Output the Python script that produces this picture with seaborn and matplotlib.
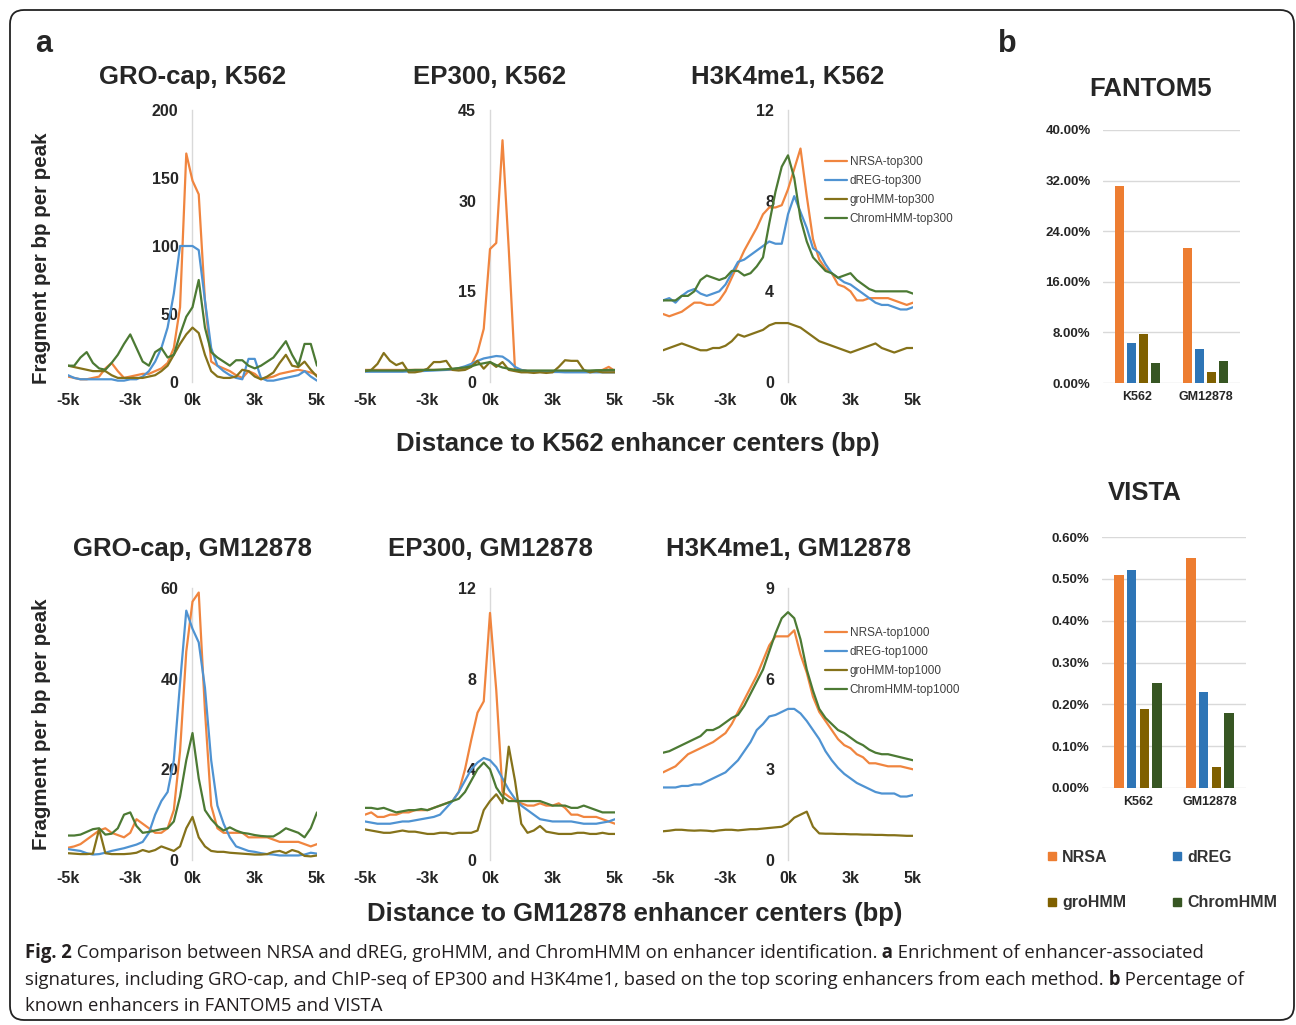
import numpy as np
import pandas as pd
import matplotlib
matplotlib.use("Agg")
import matplotlib.pyplot as plt
from matplotlib.lines import Line2D
from matplotlib.patches import FancyBboxPatch
from matplotlib.ticker import PercentFormatter
from matplotlib.transforms import IdentityTransform
import seaborn as sns

methods = ["NRSA", "dREG", "groHMM", "ChromHMM"]
cells = ["K562", "GM12878"]
distance = np.linspace(-5000, 5000, 41)
xtick_pos = [-5000, -2500, 0, 2500, 5000]
xtick_labels = ["-5k", "-3k", "0k", "3k", "5k"]

# GRO-cap, K562
grocap_k562_nrsa = [4, 3, 2, 2, 3, 4, 10, 14, 8, 3, 4, 5, 6, 6, 8, 10, 14, 25, 55, 168,
                    148, 138, 60, 15, 12, 10, 8, 5, 3, 8, 6, 2, 3, 4, 6, 7, 8, 9, 8, 7, 5]
grocap_k562_dreg = [5, 3, 2, 2, 2, 2, 2, 2, 1, 1, 2, 2, 4, 8, 15, 25, 40, 65, 100, 100,
                    100, 97, 60, 25, 12, 8, 5, 3, 2, 17, 17, 3, 1, 1, 2, 3, 4, 5, 8, 4, 1]
grocap_k562_grohmm = [12, 11, 10, 9, 8, 8, 8, 5, 3, 3, 3, 3, 3, 4, 5, 8, 12, 20, 28, 35,
                      40, 36, 20, 8, 4, 3, 3, 4, 9, 8, 4, 2, 4, 7, 14, 20, 12, 11, 15, 9, 4]
grocap_k562_chromhmm = [12, 12, 18, 22, 14, 10, 9, 14, 20, 28, 35, 25, 15, 12, 22, 25, 18, 20, 35, 48,
                        55, 75, 40, 22, 18, 15, 12, 16, 16, 12, 10, 12, 15, 18, 24, 30, 20, 12, 28, 28, 12]

# EP300, K562
ep300_k562_nrsa = [2, 2, 2, 2, 2, 2, 2, 2, 2, 2, 2, 2, 2, 2, 2, 2, 2.2, 2.8, 4.9, 8.8,
                   22, 23, 40, 22, 2, 2, 1.8, 1.8, 1.8, 1.8, 1.8, 1.8, 1.8, 1.8, 1.8, 1.8, 1.8, 1.8, 2, 2.5, 1.8]
ep300_k562_dreg = [1.7, 1.7, 1.7, 1.7, 1.7, 1.7, 1.7, 1.75, 1.8, 1.8, 1.85, 1.9, 1.95, 2, 2.1, 2.3, 2.6, 3.0, 3.5, 3.9,
                   4.1, 4.3, 4.2, 3.5, 2.5, 2.0, 1.8, 1.7, 1.7, 1.7, 1.65, 1.65, 1.6, 1.6, 1.6, 1.6, 1.6, 1.6, 1.6, 1.6, 1.6]
ep300_k562_grohmm = [1.8, 2, 3, 4.8, 3.5, 2.8, 3.2, 1.6, 1.6, 1.8, 2.2, 3.3, 3.3, 3.5, 2, 1.9, 2, 2.5, 3.5, 2.2,
                     3.3, 2.5, 3.3, 2, 1.8, 1.6, 1.6, 1.5, 1.6, 1.5, 1.6, 2.5, 3.6, 3.5, 3.5, 2, 1.6, 1.8, 1.6, 1.6, 1.6]
ep300_k562_chromhmm = [1.9, 1.9, 1.9, 1.9, 1.9, 1.9, 1.9, 1.95, 2, 2, 2, 2, 2.05, 2.1, 2.2, 2.3, 2.4, 2.6, 2.9, 3.1,
                       3.3, 2.8, 2.4, 2.2, 2.0, 1.9, 1.9, 1.9, 1.9, 1.9, 1.9, 1.9, 1.9, 1.9, 1.9, 1.9, 1.9, 1.95, 1.95, 2, 2]

# H3K4me1, K562
h3k4_k562_nrsa = [3.0, 2.9, 3.0, 3.1, 3.3, 3.5, 3.5, 3.4, 3.4, 3.6, 4.0, 4.6, 5.2, 5.8, 6.3, 6.8, 7.4, 7.7, 7.7, 7.8,
                  8.5, 9.4, 10.3, 8.2, 6.3, 5.4, 5.0, 4.8, 4.3, 4.2, 4.0, 3.6, 3.6, 3.7, 3.7, 3.7, 3.7, 3.6, 3.5, 3.4, 3.5]
h3k4_k562_dreg = [3.6, 3.7, 3.5, 3.8, 4.0, 4.1, 3.9, 3.8, 3.9, 4.0, 4.3, 4.8, 5.3, 5.4, 5.6, 5.8, 6.0, 6.2, 6.1, 6.1,
                  7.4, 8.2, 7.5, 6.8, 5.9, 5.7, 5.2, 4.8, 4.6, 4.4, 4.3, 4.1, 3.9, 3.7, 3.5, 3.4, 3.4, 3.3, 3.2, 3.2, 3.3]
h3k4_k562_grohmm = [1.4, 1.5, 1.6, 1.7, 1.6, 1.5, 1.4, 1.4, 1.5, 1.5, 1.6, 1.8, 2.1, 2.0, 2.1, 2.2, 2.3, 2.5, 2.6, 2.6,
                    2.6, 2.5, 2.4, 2.2, 2.0, 1.8, 1.7, 1.6, 1.5, 1.4, 1.3, 1.4, 1.5, 1.6, 1.7, 1.5, 1.4, 1.3, 1.4, 1.5, 1.5]
h3k4_k562_chromhmm = [3.6, 3.6, 3.6, 3.8, 3.8, 4.0, 4.5, 4.7, 4.6, 4.5, 4.6, 4.9, 4.9, 4.7, 4.8, 5.1, 5.5, 7.0, 8.4, 9.5,
                      10.0, 9.0, 7.2, 6.2, 5.5, 5.2, 4.9, 4.8, 4.6, 4.7, 4.8, 4.5, 4.3, 4.1, 4.0, 4.0, 4.0, 4.0, 4.0, 4.0, 3.9]

# GRO-cap, GM12878
grocap_gm_nrsa = [2.7, 3, 3.5, 4.5, 5.5, 6.5, 7, 6, 5.5, 5, 6, 9, 8, 7, 6, 6, 7, 11, 24, 46,
                  57, 59, 33, 12, 7, 6, 6, 6, 6, 5, 5, 5, 5, 4.5, 4, 4, 4, 4, 3.5, 3, 3.5]
grocap_gm_dreg = [2.4, 2.2, 2, 1.5, 1.2, 1.3, 1.6, 2, 2.3, 2.6, 3, 3.4, 4, 6, 10, 13, 15, 22, 39, 55,
                  51, 48, 38, 22, 12, 8, 5, 3, 2.5, 2, 1.8, 1.5, 1.3, 1.2, 1, 1, 1, 1, 1.2, 1.6, 1.4]
grocap_gm_grohmm = [1.5, 1.4, 1.3, 1.3, 1.4, 6.8, 1.5, 1.3, 1.3, 1.3, 1.4, 1.6, 2.2, 1.8, 2.2, 3, 2.5, 2, 3, 7,
                    9.5, 5, 3, 2, 1.8, 1.8, 1.6, 1.5, 1.4, 1.3, 1.2, 1.2, 1.3, 1.8, 2, 1.5, 2.2, 1.8, 0.9, 0.8, 1.0]
grocap_gm_chromhmm = [5.4, 5.4, 5.6, 6.2, 6.8, 7.0, 5.6, 5.8, 7.0, 10, 10.5, 7.5, 6.0, 6.2, 6.5, 6.8, 7.0, 8.5, 14, 22,
                      28, 18, 11, 9, 7.5, 6.5, 7.2, 6.5, 6, 5.8, 5.5, 5.3, 5.2, 5.2, 6.0, 7.0, 6.5, 6.0, 5.0, 7.0, 10.5]

# EP300, GM12878
ep300_gm_nrsa = [2.0, 2.1, 1.9, 1.9, 2.0, 2.0, 2.1, 2.1, 2.2, 2.2, 2.2, 2.3, 2.4, 2.5, 2.6, 3.0, 4.0, 5.3, 6.5, 7.0,
                 10.9, 7.5, 3.0, 2.8, 2.6, 2.5, 2.4, 2.4, 2.5, 2.4, 2.4, 2.5, 2.3, 2.0, 2.0, 1.9, 1.9, 1.9, 1.8, 1.7, 1.6]
ep300_gm_dreg = [1.7, 1.65, 1.6, 1.6, 1.6, 1.65, 1.7, 1.7, 1.75, 1.8, 1.85, 1.9, 2.0, 2.3, 2.6, 3.0, 3.5, 4.0, 4.3, 4.5,
                 4.4, 4.1, 3.6, 3.1, 2.7, 2.4, 2.2, 2.0, 1.8, 1.75, 1.7, 1.7, 1.7, 1.7, 1.65, 1.6, 1.6, 1.6, 1.65, 1.7, 1.8]
ep300_gm_grohmm = [1.35, 1.3, 1.25, 1.2, 1.2, 1.25, 1.3, 1.25, 1.25, 1.2, 1.15, 1.15, 1.2, 1.2, 1.15, 1.2, 1.2, 1.2, 1.3, 2.2,
                   2.6, 2.9, 2.5, 5.0, 3.5, 1.6, 1.2, 1.3, 1.5, 1.25, 1.2, 1.15, 1.15, 1.15, 1.2, 1.2, 1.15, 1.15, 1.2, 1.15, 1.15]
ep300_gm_chromhmm = [2.3, 2.3, 2.25, 2.3, 2.2, 2.1, 2.15, 2.2, 2.2, 2.25, 2.2, 2.3, 2.4, 2.5, 2.6, 2.7, 3.0, 3.5, 4.0, 4.3,
                     4.0, 3.2, 2.8, 2.6, 2.6, 2.6, 2.6, 2.6, 2.6, 2.5, 2.4, 2.4, 2.4, 2.3, 2.3, 2.4, 2.3, 2.2, 2.1, 2.1, 2.1]

# H3K4me1, GM12878
h3k4_gm_nrsa = [2.9, 3.0, 3.1, 3.3, 3.5, 3.6, 3.7, 3.8, 3.9, 4.05, 4.2, 4.5, 4.9, 5.3, 5.7, 6.1, 6.6, 7.1, 7.4, 7.4,
                7.4, 7.6, 6.8, 6.2, 5.4, 4.9, 4.6, 4.3, 4.0, 3.8, 3.7, 3.5, 3.4, 3.2, 3.2, 3.15, 3.1, 3.1, 3.1, 3.05, 3.0]
h3k4_gm_dreg = [2.4, 2.4, 2.4, 2.45, 2.45, 2.5, 2.5, 2.6, 2.7, 2.8, 2.9, 3.1, 3.3, 3.6, 3.9, 4.3, 4.5, 4.75, 4.8, 4.9,
                5.0, 5.0, 4.85, 4.6, 4.3, 4.0, 3.6, 3.3, 3.05, 2.85, 2.7, 2.55, 2.45, 2.35, 2.25, 2.2, 2.2, 2.2, 2.1, 2.1, 2.15]
h3k4_gm_grohmm = [0.95, 0.97, 1.0, 1.0, 0.98, 0.97, 0.98, 0.97, 0.95, 0.98, 1.0, 1.0, 0.98, 1.0, 1.02, 1.02, 1.04, 1.06, 1.08, 1.1,
                  1.2, 1.4, 1.5, 1.6, 1.1, 0.88, 0.87, 0.87, 0.86, 0.86, 0.85, 0.85, 0.84, 0.84, 0.83, 0.83, 0.82, 0.82, 0.81, 0.8, 0.8]
h3k4_gm_chromhmm = [3.55, 3.6, 3.7, 3.8, 3.9, 4.0, 4.1, 4.3, 4.3, 4.4, 4.55, 4.7, 4.8, 5.1, 5.5, 5.9, 6.3, 6.9, 7.5, 8.0,
                    8.2, 8.0, 7.3, 6.3, 5.6, 5.0, 4.7, 4.5, 4.3, 4.2, 4.05, 3.9, 3.8, 3.65, 3.55, 3.5, 3.5, 3.45, 3.4, 3.35, 3.3]

# percent of known enhancers (K562, GM12878)
fantom5_nrsa = [31.2, 21.3]
fantom5_dreg = [6.3, 5.3]
fantom5_grohmm = [7.8, 1.7]
fantom5_chromhmm = [3.1, 3.4]
vista_nrsa = [0.51, 0.55]
vista_dreg = [0.52, 0.23]
vista_grohmm = [0.19, 0.05]
vista_chromhmm = [0.25, 0.18]

line_colors = {"NRSA": "#F0853F", "dREG": "#4F93D2", "groHMM": "#85721A", "ChromHMM": "#4C7A34"}
bar_colors = {"NRSA": "#ED7D31", "dREG": "#2E75B6", "groHMM": "#7F6000", "ChromHMM": "#375623"}

sns.set_style("white")
plt.rcParams["font.family"] = ["Liberation Sans", "DejaVu Sans"]

W, H = 1296, 1025
fig = plt.figure(figsize=(W / 100, H / 100), dpi=100)


def rect(x0, y0, x1, y1):
    return [x0 / W, 1 - y1 / H, (x1 - x0) / W, (y1 - y0) / H]


def draw_profile(ax, series, yticks, legend_suffix=None):
    df = pd.DataFrame({
        "distance": np.tile(distance, len(methods)),
        "signal": np.concatenate([np.asarray(s, float) for s in series]),
        "method": np.repeat(methods, len(distance)),
    })
    sns.lineplot(data=df, x="distance", y="signal", hue="method", hue_order=methods,
                 palette=line_colors, linewidth=1.6, estimator=None, legend=False, ax=ax)
    ax.set_xlim(-5000, 5000)
    ax.set_ylim(0, yticks[-1])
    ax.set_xticks(xtick_pos, xtick_labels)
    ax.set_yticks(yticks)
    ax.set_xlabel("")
    ax.set_ylabel("")
    for s in ["top", "right", "bottom"]:
        ax.spines[s].set_visible(False)
    ax.spines["left"].set_position(("data", 0))
    ax.spines["left"].set_color("#D9D9D9")
    ax.spines["left"].set_linewidth(1)
    ax.spines["left"].set_zorder(0.5)
    ax.tick_params(axis="x", length=0, labelsize=11.5, pad=8)
    ax.tick_params(axis="y", length=0, labelsize=11.5, pad=10)
    for lab in ax.get_xticklabels() + ax.get_yticklabels():
        lab.set_fontweight("bold")
    ax.patch.set_alpha(0)
    if legend_suffix:
        handles = [Line2D([], [], color=line_colors[m], lw=1.6) for m in methods]
        labels = [f"{m}-{legend_suffix}" for m in methods]
        return handles, labels
    return None


def draw_bars(ax, series, yticks):
    df = pd.DataFrame({
        "cell": cells * len(methods),
        "method": np.repeat(methods, len(cells)),
        "pct": np.concatenate(series),
    })
    sns.barplot(data=df, x="cell", y="pct", hue="method", hue_order=methods,
                palette=bar_colors, saturation=1, width=0.7, gap=0.25, linewidth=0,
                legend=False, ax=ax)
    ax.set_ylim(0, yticks[-1])
    ax.set_yticks(yticks)
    ax.yaxis.set_major_formatter(PercentFormatter(xmax=100, decimals=2))
    ax.grid(axis="y", color="#D9D9D9", linewidth=1)
    ax.grid(axis="x", visible=False)
    ax.set_axisbelow(True)
    for s in ax.spines.values():
        s.set_visible(False)
    ax.set_xlabel("")
    ax.set_ylabel("")
    ax.tick_params(axis="y", length=0, labelsize=9.5, pad=9, labelcolor="#262626")
    ax.tick_params(axis="x", length=0, labelsize=9, pad=6, labelcolor="#262626")
    for lab in ax.get_xticklabels() + ax.get_yticklabels():
        lab.set_fontweight("bold")


cols = [(68, 317), (365, 615), (663, 913)]
rows = [(110, 382), (588, 860)]

panels = [
    (0, 0, "GRO-cap, K562", [grocap_k562_nrsa, grocap_k562_dreg, grocap_k562_grohmm, grocap_k562_chromhmm], [0, 50, 100, 150, 200], None),
    (0, 1, "EP300, K562", [ep300_k562_nrsa, ep300_k562_dreg, ep300_k562_grohmm, ep300_k562_chromhmm], [0, 15, 30, 45], None),
    (0, 2, "H3K4me1, K562", [h3k4_k562_nrsa, h3k4_k562_dreg, h3k4_k562_grohmm, h3k4_k562_chromhmm], [0, 4, 8, 12], "top300"),
    (1, 0, "GRO-cap, GM12878", [grocap_gm_nrsa, grocap_gm_dreg, grocap_gm_grohmm, grocap_gm_chromhmm], [0, 20, 40, 60], None),
    (1, 1, "EP300, GM12878", [ep300_gm_nrsa, ep300_gm_dreg, ep300_gm_grohmm, ep300_gm_chromhmm], [0, 4, 8, 12], None),
    (1, 2, "H3K4me1, GM12878", [h3k4_gm_nrsa, h3k4_gm_dreg, h3k4_gm_grohmm, h3k4_gm_chromhmm], [0, 3, 6, 9], "top1000"),
]

title_y = [77, 549]
legend_top = [0.832, 0.857]
for r, c, title, series, yticks, suffix in panels:
    x0, x1 = cols[c]
    y0, y1 = rows[r]
    ax = fig.add_axes(rect(x0, y0, x1, y1))
    leg = draw_profile(ax, series, yticks, suffix)
    fig.text((x0 + x1) / 2 / W, 1 - title_y[r] / H, title, ha="center", va="center",
             fontsize=18.5, fontweight="bold")
    if leg:
        ax.legend(leg[0], leg[1], loc="upper left", bbox_to_anchor=(0.648, legend_top[r]),
                  frameon=False, fontsize=8.5, handlelength=1.9, handletextpad=0.2,
                  labelspacing=0.6, borderpad=0, borderaxespad=0, labelcolor="#404040")

for y in [258, 724]:
    fig.text(42 / W, 1 - y / H, "Fragment per bp per peak", rotation=90, ha="center", va="center",
             fontsize=14.8, fontweight="bold")
fig.text(638 / W, 1 - 444 / H, "Distance to K562 enhancer centers (bp)", ha="center", va="center",
         fontsize=18.5, fontweight="bold")
fig.text(635 / W, 1 - 914 / H, "Distance to GM12878 enhancer centers (bp)", ha="center", va="center",
         fontsize=18.5, fontweight="bold")

# panel b: bar charts
ax_f = fig.add_axes(rect(1103, 130, 1240, 383))
draw_bars(ax_f, [fantom5_nrsa, fantom5_dreg, fantom5_grohmm, fantom5_chromhmm], [0, 8, 16, 24, 32, 40])
fig.text(1151 / W, 1 - 89 / H, "FANTOM5", ha="center", va="center", fontsize=18.5, fontweight="bold")

ax_v = fig.add_axes(rect(1102, 537, 1246, 788))
draw_bars(ax_v, [vista_nrsa, vista_dreg, vista_grohmm, vista_chromhmm], [0, 0.1, 0.2, 0.3, 0.4, 0.5, 0.6])
fig.text(1145 / W, 1 - 493 / H, "VISTA", ha="center", va="center", fontsize=18.5, fontweight="bold")

order = ["NRSA", "groHMM", "dREG", "ChromHMM"]
bar_handles = [Line2D([], [], marker="s", linestyle="", markersize=5.5, color=bar_colors[m]) for m in order]
fig.legend(bar_handles, order, loc="upper left", bbox_to_anchor=(1047 / W, 1 - 850 / H), ncol=2,
           frameon=False, prop={"weight": "bold", "size": 11.5}, labelcolor="#333333",
           handlelength=0.6, handletextpad=0.35, columnspacing=2.9, labelspacing=1.9,
           borderpad=0, borderaxespad=0)

fig.text(44 / W, 1 - 44 / H, "a", ha="center", va="center", fontsize=22, fontweight="bold")
fig.text(1007 / W, 1 - 44 / H, "b", ha="center", va="center", fontsize=22, fontweight="bold")

# caption with bold pieces
cap_lines = [
    [("Fig. 2", True), (" Comparison between NRSA and dREG, groHMM, and ChromHMM on enhancer identification.", False),
     (" a", True), (" Enrichment of enhancer-associated", False)],
    [("signatures, including GRO-cap, and ChIP-seq of EP300 and H3K4me1, based on the top scoring enhancers from each method.", False),
     (" b", True), (" Percentage of", False)],
    [("known enhancers in FANTOM5 and VISTA", False)],
]
cap_font = ["Open Sans", "DejaVu Sans"]
renderer = fig.canvas.get_renderer()
probe = fig.text(0, 0, "".join(t for t, _ in cap_lines[0]), fontsize=13, family=cap_font)
cap_size = 13 * 1172 / probe.get_window_extent(renderer).width
probe.remove()
for line, y in zip(cap_lines, [953, 980, 1006]):
    x = 25 / W
    for txt, bold in line:
        t = fig.text(x, 1 - y / H, txt, fontsize=cap_size, family=cap_font, va="center",
                     fontweight="bold" if bold else "normal", color="#231F20")
        x += t.get_window_extent(renderer).width / W

border = FancyBboxPatch((10, 5), 1284, 1010, boxstyle="round,pad=0,rounding_size=14",
                        transform=IdentityTransform(), fill=False, edgecolor="#222222", linewidth=1.3)
fig.add_artist(border)

fig.savefig("out.png", dpi=100)
